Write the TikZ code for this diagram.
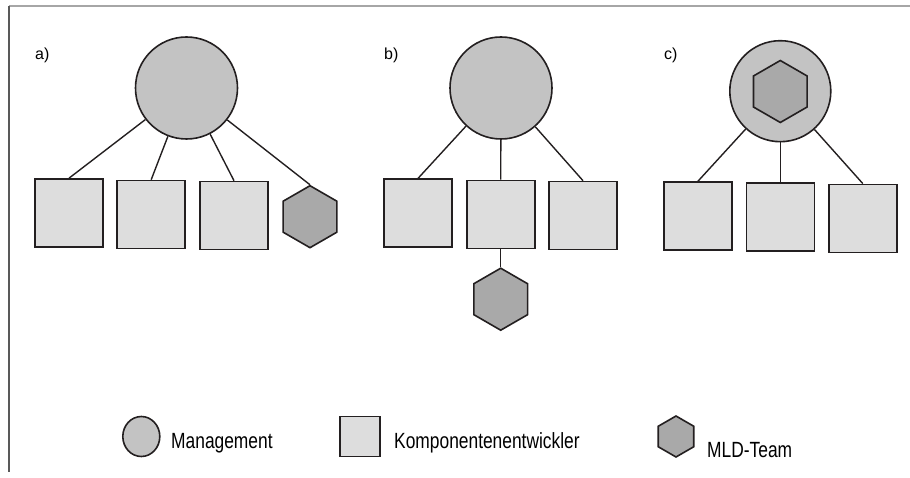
\documentclass[tikz,border=0pt]{standalone}
\usepackage{fontspec}
\setmainfont{Liberation Sans}
\newfontfamily\legfont{Liberation Sans}[FakeStretch=0.79]
\usetikzlibrary{shapes.geometric}
\definecolor{outl}{HTML}{231F20}
\definecolor{mgmtfill}{HTML}{C3C3C3}
\definecolor{devfill}{HTML}{DDDDDD}
\definecolor{mldfill}{HTML}{A9A9A9}
\tikzset{
  mgmt/.style={circle, draw=outl, fill=mgmtfill, line width=1.6pt, inner sep=0pt, minimum size=#1},
  devbox/.style={rectangle, draw=outl, fill=devfill, line width=1.6pt, inner sep=0pt, minimum size=#1},
  mldhex/.style={regular polygon, regular polygon sides=6, shape border rotate=30, draw=outl, fill=mldfill, line width=1.6pt, inner sep=0pt, minimum size=#1},
  conn/.style={draw=outl, line width=1.4pt},
  lbl/.style={inner sep=0pt, anchor=west, font=\fontsize{16}{18}\selectfont},
  legtxt/.style={inner sep=0pt, anchor=base west, font=\legfont\fontsize{22}{24}\selectfont},
}
\begin{document}
\begin{tikzpicture}[x=1pt,y=-1pt]
\useasboundingbox (0,0) rectangle (910,478);
% frame
\draw[color=black!35, line width=1.4pt] (9,6) -- (910,6);
\draw[color=black!65, line width=1.4pt] (9,6) -- (9,472);
% labels
\node[lbl] (la) at (35,55) {a)};
\node[lbl] (lb) at (384,55) {b)};
\node[lbl] (lc) at (664,55) {c)};
% a)
\node[mgmt=102pt] (ma) at (186.5,88) {};
\node[devbox=68pt] (a1) at (69,213) {};
\node[devbox=68pt] (a2) at (151.2,214.5) {};
\node[devbox=68pt] (a3) at (234,215.5) {};
\node[mldhex=62pt] (ah) at (310,216.7) {};
\draw[conn] (ma) -- (a1.north);
\draw[conn] (ma) -- (a2.north);
\draw[conn] (ma) -- (a3.north);
\draw[conn] (ma) -- (ah.north);
% b)
\node[mgmt=102pt] (mb) at (501,88) {};
\node[devbox=68pt] (b1) at (418,213.2) {};
\node[devbox=68pt] (b2) at (500.7,214.5) {};
\node[devbox=68pt] (b3) at (583,215.5) {};
\node[mldhex=62pt] (bh) at (500.7,299.2) {};
\draw[conn] (mb) -- (b1.north);
\draw[conn] (mb) -- (b2.north);
\draw[conn] (mb) -- (b3.north);
\draw[conn] (b2.south) -- (bh.north);
% c)
\node[mgmt=101pt] (mc) at (780.3,91.2) {};
\node[mldhex=62pt] (ch) at (780.3,91.5) {};
\node[devbox=68pt] (c1) at (697.8,216.2) {};
\node[devbox=68pt] (c2) at (780.3,217.2) {};
\node[devbox=68pt] (c3) at (862.8,218.4) {};
\draw[conn] (mc) -- (c1.north);
\draw[conn] (mc) -- (c2.north);
\draw[conn] (mc) -- (c3.north);
% legend
\node[ellipse, draw=outl, fill=mgmtfill, line width=1.6pt, inner sep=0pt, minimum width=37pt, minimum height=40pt] (lm) at (141.3,436.5) {};
\node[legtxt] (tm) at (171,448) {Management};
\node[devbox=40pt] (ld) at (360,436.5) {};
\node[legtxt] (td) at (394,448) {Komponentenentwickler};
\node[mldhex=41pt] (lh) at (676,436.5) {};
\node[legtxt] (th) at (707,457) {MLD-Team};
\end{tikzpicture}
\end{document}
